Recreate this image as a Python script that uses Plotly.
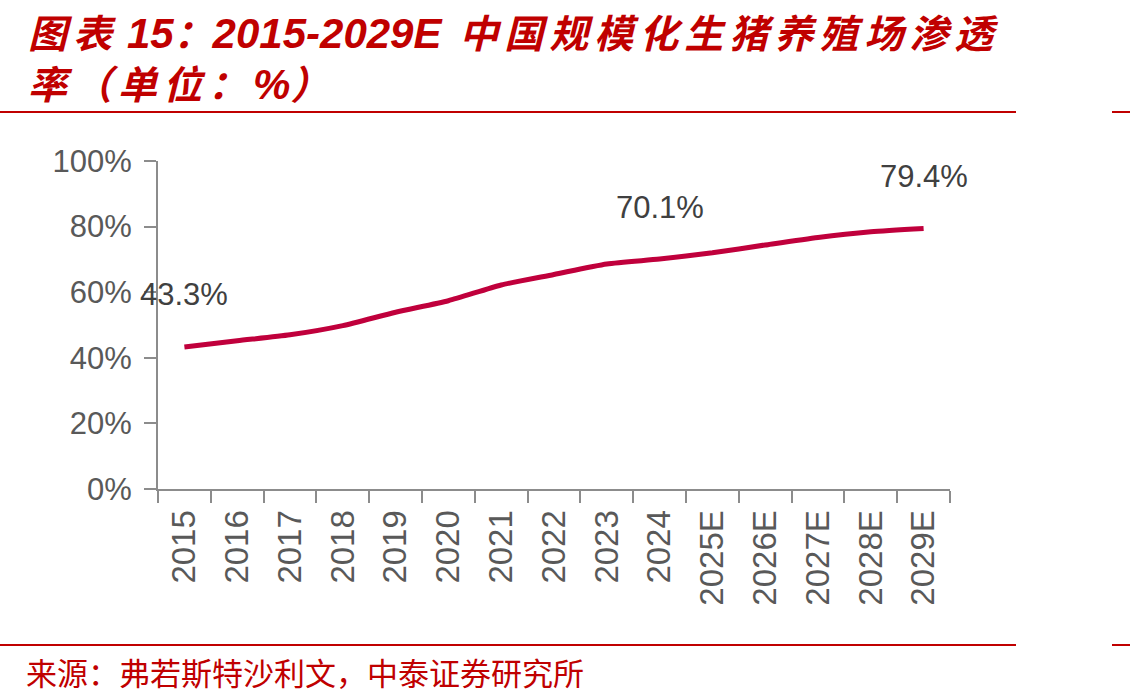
import plotly.graph_objects as go

categories = ["2015", "2016", "2017", "2018", "2019", "2020", "2021", "2022", "2023",
              "2024", "2025E", "2026E", "2027E", "2028E", "2029E"]
values = [43.3, 45.2, 47.0, 49.8, 53.9, 57.4, 62.2, 65.4, 68.6, 70.1, 72.0, 74.4, 76.7, 78.4, 79.4]
labeled = {"2015": "43.3%", "2024": "70.1%", "2029E": "79.4%"}
y_ticks = [0, 20, 40, 60, 80, 100]
y_tick_text = ["0%", "20%", "40%", "60%", "80%", "100%"]

W, H = 1130, 698
L, R, T, B = 158, 180, 161, 209
PW, PH = W - L - R, H - T - B

def px(x):
    return (x - L) / PW

def py(y):
    return (H - B - y) / PH

RED = "#C00000"
LINE = "#C0003C"
GRAY_TXT = "#595959"
AXIS = "#8C8C8C"
LAT = "Liberation Sans, Arial"
CJK = "Noto Sans CJK SC"

fig = go.Figure()
fig.add_trace(go.Scatter(
    x=categories, y=values, mode="lines",
    line=dict(color=LINE, width=5, shape="spline", smoothing=0.6),
    hoverinfo="skip", showlegend=False,
))

annotations = []
for i, (c, v) in enumerate(zip(categories, values)):
    if c in labeled:
        annotations.append(dict(
            x=i, y=v, xref="x", yref="y", text=labeled[c], showarrow=False,
            yshift=52, font=dict(family=LAT, size=31, color="#404040"),
        ))

lat = lambda s: f'<span style="font-family:{LAT};font-size:42px">{s}</span>'
sp = lambda s: f'<span style="letter-spacing:6px">{s}</span>'
title_text = (f"<b><i>{sp('图表')} {lat('15')}：{lat('2015-2029E')}  {sp('中国规模化生猪养殖场渗透')}"
              f"<br>{sp('率（单位：')}{lat('%')}）</i></b>")
annotations.append(dict(
    x=px(26), y=py(1), xref="paper", yref="paper", xanchor="left", yanchor="top",
    text=title_text, showarrow=False, align="left",
    font=dict(family=CJK, size=39, color=RED),
))
annotations.append(dict(
    x=px(24), y=py(671), xref="paper", yref="paper", xanchor="left", yanchor="middle",
    text="来源：弗若斯特沙利文，中泰证券研究所", showarrow=False,
    font=dict(family=CJK, size=31, color=RED),
))

shapes = [
    dict(type="line", xref="paper", yref="paper", x0=px(0), x1=px(1016), y0=py(112), y1=py(112),
         line=dict(color=RED, width=2)),
    dict(type="line", xref="paper", yref="paper", x0=px(1112), x1=px(1130), y0=py(112), y1=py(112),
         line=dict(color=RED, width=2)),
    dict(type="line", xref="paper", yref="paper", x0=px(0), x1=px(1016), y0=py(645), y1=py(645),
         line=dict(color=RED, width=2)),
    dict(type="line", xref="paper", yref="paper", x0=px(1112), x1=px(1130), y0=py(645), y1=py(645),
         line=dict(color=RED, width=2)),
]

fig.update_layout(
    width=W, height=H,
    margin=dict(l=L, r=R, t=T, b=B, pad=0),
    paper_bgcolor="white", plot_bgcolor="white",
    annotations=annotations, shapes=shapes,
    showlegend=False,
    xaxis=dict(
        type="category", range=[-0.5, len(categories) - 0.5],
        showline=True, linecolor=AXIS, linewidth=2,
        ticks="outside", tickson="boundaries", ticklen=12, tickcolor=AXIS, tickwidth=2,
        tickangle=-90, showgrid=False, zeroline=False, ticklabelstandoff=6,
        tickfont=dict(family=LAT, size=33, color=GRAY_TXT),
    ),
    yaxis=dict(
        range=[0, 100], tickvals=y_ticks, ticktext=y_tick_text,
        showline=True, linecolor=AXIS, linewidth=2,
        ticks="outside", ticklen=12, tickcolor=AXIS, tickwidth=2,
        showgrid=False, zeroline=False, ticklabelstandoff=6,
        tickfont=dict(family=LAT, size=31, color=GRAY_TXT),
    ),
)

fig.write_html("out.html")
